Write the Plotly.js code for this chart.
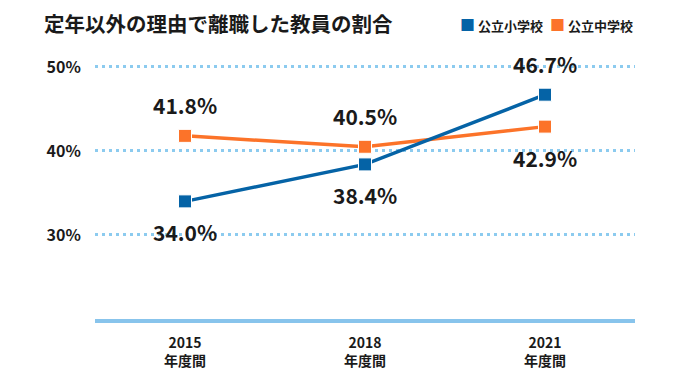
<!DOCTYPE html>
<html><head><meta charset="utf-8">
<script src="https://cdn.plot.ly/plotly-3.0.1.min.js"></script>
<style>html,body{margin:0;padding:0;background:#fff}</style>
</head><body>
<div id="chart" style="width:680px;height:380px"></div>
<script>
const categories = ["2015<br>年度間", "2018<br>年度間", "2021<br>年度間"];
const seriesNames = ["公立小学校", "公立中学校"];
const elementary = [34.0, 38.4, 46.7];
const juniorHigh = [41.8, 40.5, 42.9];
const yTicks = [30, 40, 50];
const yTickLabels = ["30%", "40%", "50%"];
// label above (+1) or below (-1) each point
const elemLabelSide = [-1, -1, 1];
const juniorLabelSide = [1, 1, -1];

const BLUE = "#0563a6", ORANGE = "#fc7329";
const FONT = "'Noto Sans CJK JP', 'Noto Sans', sans-serif";

function lineTrace(y, color) {
  return {x: categories, y: y, type: "scatter", mode: "lines+markers", showlegend: false,
    line: {color: color, width: 3.5},
    marker: {symbol: "square", size: 13, color: color, line: {color: "#fff", width: 1}},
    hoverinfo: "skip"};
}
function labels(y, side) {
  return y.map((v, i) => ({x: categories[i], y: v, text: v.toFixed(1) + "%", showarrow: false,
    yshift: side[i] * 31, font: {family: FONT, size: 21, color: "#1a1a1a", weight: "bold"}}));
}
function legendItem(name, color, xpos) {
  return {xref: "paper", yref: "paper", x: xpos, y: (319 - 24) / 259, xanchor: "left", yanchor: "middle",
    showarrow: false,
    text: "<span style='color:" + color + ";font-size:15px'>■</span> " + name,
    font: {family: FONT, size: 13, color: "#1a1a1a", weight: "bold"}};
}

const data = [
  lineTrace(juniorHigh, ORANGE),
  lineTrace(elementary, BLUE)
];

const layout = {
  width: 680, height: 380,
  margin: {l: 95, r: 45, t: 60, b: 61},
  paper_bgcolor: "#fff", plot_bgcolor: "#fff",
  font: {family: FONT, color: "#1a1a1a"},
  title: {text: "<b>定年以外の理由で離職した教員の割合</b>", x: 44 / 680, xref: "container", xanchor: "left",
    yref: "container", y: 1 - 25 / 380, yanchor: "middle", font: {family: FONT, size: 20.5, color: "#1a1a1a"}},
  showlegend: false,
  xaxis: {type: "category", range: [-0.5, 2.5], showgrid: false, zeroline: false,
    showline: true, linecolor: "#88c4ec", linewidth: 4,
    ticks: "outside", ticklen: 8, tickcolor: "rgba(0,0,0,0)",
    tickfont: {family: FONT, size: 14, color: "#1a1a1a", weight: "bold"}, fixedrange: true},
  yaxis: {range: [20, 50.83], tickvals: yTicks, ticktext: yTickLabels, showgrid: true,
    gridcolor: "#8ccbef", gridwidth: 3, griddash: "3px,4px", zeroline: false, showline: false,
    ticks: "outside", ticklen: 10, tickcolor: "rgba(0,0,0,0)",
    tickfont: {family: FONT, size: 16, color: "#1a1a1a", weight: "bold"}, fixedrange: true},
  annotations: labels(elementary, elemLabelSide).concat(labels(juniorHigh, juniorLabelSide))
    .concat([legendItem(seriesNames[0], BLUE, (458 - 95) / 540), legendItem(seriesNames[1], ORANGE, (548 - 95) / 540)])
};

Plotly.newPlot("chart", data, layout, {displayModeBar: false, staticPlot: true});
</script>
</body></html>
